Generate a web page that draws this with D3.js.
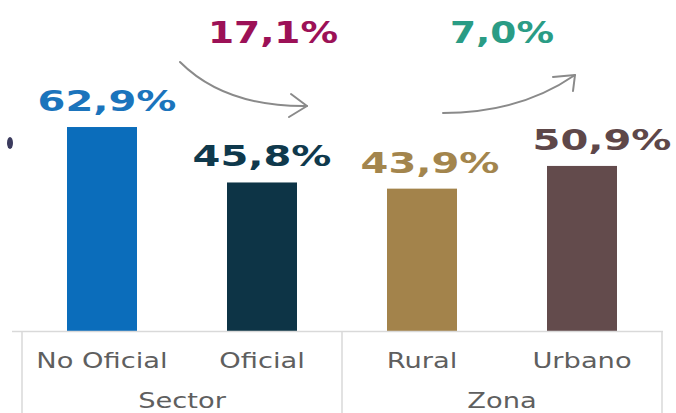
<!DOCTYPE html>
<html>
<head>
<meta charset="utf-8">
<script src="https://cdn.jsdelivr.net/npm/d3@7"></script>
<style>
  html, body { margin: 0; padding: 0; background: #ffffff; }
  svg { display: block; }
</style>
</head>
<body>
<svg id="chart" width="676" height="413"></svg>
<script>
// ---- data ----
const categories = ["No Oficial", "Oficial", "Rural", "Urbano"];
const values = [62.9, 45.8, 43.9, 50.9];
const valueLabels = ["62,9%", "45,8%", "43,9%", "50,9%"];
const groups = ["Sector", "Zona"];
const groupMembers = [["No Oficial", "Oficial"], ["Rural", "Urbano"]];
const gapLabels = ["17,1%", "7,0%"];
const barColors = ["#0B6DBB", "#0D3446", "#A3834B", "#634B4C"];
const labelColors = ["#1B74BC", "#0F394C", "#A3854D", "#5E4749"];
const gapColors = ["#9C1157", "#2A9C85"];

// ---- layout ----
const svg = d3.select("#chart");
const baseY = 331;
const x = d3.scaleBand().domain(categories).range([22, 662])
  .paddingInner(0.5625).paddingOuter(0.28125);
const y = d3.scaleLinear().domain([0, 70]).range([baseY, baseY - 227]);
const step = x.step();
const cx = c => x(c) + x.bandwidth() / 2;
const font = "'DejaVu Sans', Verdana, sans-serif";

// small cut-off mark at the left edge
svg.append("ellipse").attr("cx", 10).attr("cy", 143).attr("rx", 3).attr("ry", 6)
  .attr("fill", "#3b3b5e");

// bars
svg.selectAll("rect.bar").data(categories).enter().append("rect")
  .attr("class", "bar")
  .attr("x", d => x(d))
  .attr("width", x.bandwidth())
  .attr("y", (d, i) => y(values[i]))
  .attr("height", (d, i) => baseY - y(values[i]))
  .attr("fill", (d, i) => barColors[i]);

// value labels
const labelNudge = [5, 0, 8, 20];
svg.selectAll("text.val").data(categories).enter().append("text")
  .attr("class", "val")
  .attr("transform", (d, i) => `translate(${cx(d) + labelNudge[i]},${y(values[i]) - 16}) scale(1.38,1)`)
  .attr("text-anchor", "middle")
  .attr("font-family", font).attr("font-weight", "bold").attr("font-size", 29)
  .attr("fill", (d, i) => labelColors[i])
  .text((d, i) => valueLabels[i]);

// axis baseline and separators
const axisG = svg.append("g").attr("stroke", "#d9d9d9").attr("stroke-width", 1.5);
axisG.append("line").attr("x1", 12).attr("x2", x.range()[1] + 1)
  .attr("y1", baseY + 0.5).attr("y2", baseY + 0.5);
const seps = [x.range()[0], x.range()[0] + 2 * step, x.range()[1]];
axisG.selectAll("line.sep").data(seps).enter().append("line")
  .attr("class", "sep")
  .attr("x1", d => d).attr("x2", d => d)
  .attr("y1", baseY).attr("y2", 413);

// category labels
svg.selectAll("text.cat").data(categories).enter().append("text")
  .attr("class", "cat")
  .attr("transform", d => `translate(${cx(d)},${baseY + 37}) scale(1.3,1)`)
  .attr("text-anchor", "middle")
  .attr("font-family", font).attr("font-size", 21).attr("fill", "#5f5f5f")
  .text(d => d);

// group labels
svg.selectAll("text.grp").data(groups).enter().append("text")
  .attr("class", "grp")
  .attr("transform", (d, i) => {
    const m = groupMembers[i];
    const mid = (x(m[0]) + x(m[1]) + x.bandwidth()) / 2;
    return `translate(${mid},${baseY + 77}) scale(1.3,1)`;
  })
  .attr("text-anchor", "middle")
  .attr("font-family", font).attr("font-size", 21).attr("fill", "#5f5f5f")
  .text(d => d);

// gap labels
const gapX = [cx("Oficial") + 11, (cx("Rural") + cx("Urbano")) / 2];
svg.selectAll("text.gap").data(gapLabels).enter().append("text")
  .attr("class", "gap")
  .attr("transform", (d, i) => `translate(${gapX[i]},${43}) scale(1.25,1)`)
  .attr("text-anchor", "middle")
  .attr("font-family", font).attr("font-weight", "bold").attr("font-size", 30)
  .attr("fill", (d, i) => gapColors[i])
  .text(d => d);

// arrows
const arrowG = svg.append("g").attr("fill", "none").attr("stroke", "#8a8a8a")
  .attr("stroke-width", 2).attr("stroke-linecap", "round").attr("stroke-linejoin", "round");
// Sector: decrease arrow
const a1s = [cx("No Oficial") + 78, 62], a1e = [cx("Oficial") + 45, 106];
arrowG.append("path").attr("d", `M${a1s[0]},${a1s[1]} Q${a1s[0] + 45},${a1e[1] + 1} ${a1e[0]},${a1e[1]}`);
arrowG.append("path").attr("d", `M${a1e[0] - 16},${a1e[1] - 12} L${a1e[0]},${a1e[1]} L${a1e[0] - 18},${a1e[1] + 11}`);
// Zona: increase arrow
const a2s = [cx("Rural") + 21, 113], a2e = [cx("Urbano") - 7, 75];
arrowG.append("path").attr("d", `M${a2s[0]},${a2s[1]} Q${a2s[0] + 77},${a2s[1]} ${a2e[0]},${a2e[1]}`);
arrowG.append("path").attr("d", `M${a2e[0] - 22},${a2e[1] + 2} L${a2e[0]},${a2e[1]} L${a2e[0] - 2},${a2e[1] + 16}`);
</script>
</body>
</html>
